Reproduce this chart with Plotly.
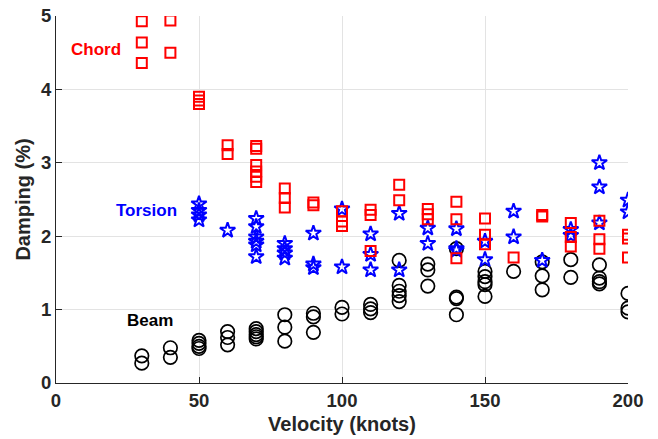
import plotly.graph_objects as go

# Chord-mode damping (%) by velocity (knots)
chord_v = [30, 30, 30, 40, 40, 50, 50, 50, 60, 60,
           70, 70, 70, 70, 70, 70, 80, 80, 80, 90, 90,
           100, 100, 100, 110, 110, 110, 120, 120,
           130, 130, 130, 140, 140, 140, 150, 150, 150,
           160, 170, 170, 180, 180, 180, 190, 190, 190, 200, 200, 200]
chord_d = [4.93, 4.64, 4.36, 4.94, 4.50, 3.90, 3.85, 3.80, 3.24, 3.12,
           3.23, 3.19, 2.97, 2.88, 2.81, 2.74, 2.65, 2.52, 2.39, 2.46, 2.42,
           2.34, 2.20, 2.14, 2.36, 2.29, 1.80, 2.70, 2.49,
           2.37, 2.30, 2.23, 2.47, 2.23, 1.70, 2.24, 2.02, 1.89,
           1.71, 2.29, 2.27, 2.18, 1.99, 1.86, 2.21, 1.96, 1.83, 2.02, 1.97, 1.71]

# Torsion-mode damping (%)
torsion_v = [50, 50, 50, 50, 60,
             70, 70, 70, 70, 70, 70, 80, 80, 80, 80, 90, 90, 90,
             100, 100, 110, 110, 110, 120, 120, 130, 130,
             140, 140, 140, 150, 150, 160, 160, 170, 180, 180,
             190, 190, 190, 200, 200]
torsion_d = [2.44, 2.35, 2.29, 2.22, 2.08,
             2.24, 2.13, 1.99, 1.93, 1.88, 1.72, 1.90, 1.83, 1.77, 1.70, 2.04, 1.62, 1.57,
             2.37, 1.58, 2.03, 1.75, 1.54, 2.31, 1.54, 2.11, 1.90,
             2.10, 1.83, 1.81, 1.93, 1.68, 2.34, 1.99, 1.67, 2.09, 2.01,
             3.00, 2.67, 2.18, 2.49, 2.33]

# Beam-mode damping (%)
beam_v = [30, 30, 40, 40, 50, 50, 50, 50, 60, 60, 60,
          70, 70, 70, 70, 70, 80, 80, 80, 90, 90, 90,
          100, 100, 110, 110, 110, 120, 120, 120, 120, 120,
          130, 130, 130, 140, 140, 140, 140, 150, 150, 150, 150, 150,
          160, 170, 170, 170, 180, 180, 190, 190, 190, 190, 200, 200, 200]
beam_d = [0.37, 0.27, 0.48, 0.35, 0.58, 0.54, 0.50, 0.47, 0.70, 0.62, 0.52,
          0.74, 0.70, 0.66, 0.63, 0.60, 0.93, 0.76, 0.57, 0.95, 0.90, 0.69,
          1.03, 0.94, 1.07, 1.01, 0.96, 1.67, 1.33, 1.25, 1.19, 1.11,
          1.62, 1.54, 1.32, 1.83, 1.17, 1.15, 0.93, 1.52, 1.45, 1.38, 1.34, 1.18,
          1.52, 1.65, 1.46, 1.27, 1.68, 1.44, 1.61, 1.43, 1.38, 1.35, 1.22, 1.02, 0.97]

x_ticks = [0, 50, 100, 150, 200]
y_ticks = [0, 1, 2, 3, 4, 5]

FONT = "Liberation Sans, Arial, Helvetica, sans-serif"

fig = go.Figure()
fig.add_trace(go.Scatter(
    x=beam_v, y=beam_d, mode="markers", name="Beam",
    marker=dict(symbol="circle-open", size=13.5, color="black",
                line=dict(width=1.7, color="black"))))
fig.add_trace(go.Scatter(
    x=torsion_v, y=torsion_d, mode="markers", name="Torsion",
    marker=dict(symbol="star-open", size=11.5, color="#0000ff",
                line=dict(width=2, color="#0000ff"))))
fig.add_trace(go.Scatter(
    x=chord_v, y=chord_d, mode="markers", name="Chord",
    marker=dict(symbol="square-open", size=10, color="#ff0000",
                line=dict(width=2, color="#ff0000"))))

for text, x, y, color in [("Chord", 14.0, 4.54, "#ff0000"),
                          ("Torsion", 31.7, 2.35, "#0000ff"),
                          ("Beam", 32.8, 0.845, "black")]:
    fig.add_annotation(x=x, y=y, text=f"<b>{text}</b>", showarrow=False,
                       font=dict(family=FONT, size=17, color=color),
                       xanchor="center", yanchor="middle")

axis_common = dict(
    showgrid=True, gridcolor="#e3e3e3", gridwidth=1,
    zeroline=False, showline=True, linecolor="#262626", linewidth=1.2,
    ticks="inside", ticklen=6, tickwidth=1.2, tickcolor="#262626",
    tickfont=dict(family=FONT, size=18.5, color="#262626"),
    mirror=False, automargin=False,
)

fig.update_xaxes(range=[0, 200], tickvals=x_ticks,
                 ticktext=[f"<b>{t}</b>" for t in x_ticks],
                 ticklabelstandoff=1,
                 title=dict(text="<b>Velocity (knots)</b>", standoff=6,
                            font=dict(family=FONT, size=20, color="#262626")),
                 **axis_common)
fig.update_yaxes(range=[0, 5], tickvals=y_ticks,
                 ticktext=[f"<b>{t}</b>" for t in y_ticks],
                 title=dict(text="<b>Damping (%)</b>", standoff=4,
                            font=dict(family=FONT, size=20, color="#262626")),
                 **axis_common)

fig.update_layout(
    width=658, height=439,
    margin=dict(l=56, r=30, t=16, b=56),
    plot_bgcolor="white", paper_bgcolor="white",
    showlegend=False,
)

fig.write_html("out.html")
